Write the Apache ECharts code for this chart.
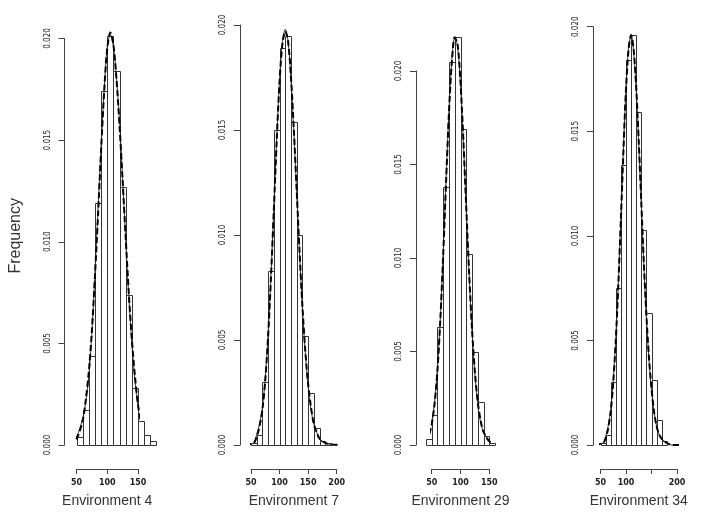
<!DOCTYPE html>
<html>
<head>
<meta charset="utf-8">
<script src="https://cdn.jsdelivr.net/npm/echarts@6/dist/echarts.min.js"></script>
<style>
  html, body {margin: 0; padding: 0; background: #fff;}
  #chart {width: 705px; height: 513px;}
</style>
</head>
<body>
<div id="chart"></div>
<script>
// ---- data ----
const titles = ['Environment 4', 'Environment 7', 'Environment 29', 'Environment 34']

// histogram bin edges (width 10) and heights (density)
const env4Edges = [50, 60, 70, 80, 90, 100, 110, 120, 130, 140, 150, 160, 170, 180]
const env4Heights = [0.0004, 0.0017, 0.0044, 0.0119, 0.0174, 0.0201, 0.0184, 0.0127, 0.0074, 0.0028, 0.0012, 0.0005, 0.0002]
const env7Edges = [50, 60, 70, 80, 90, 100, 110, 120, 130, 140, 150, 160, 170, 180, 190]
const env7Heights = [0.0001, 0.0005, 0.0030, 0.0083, 0.0150, 0.0189, 0.0195, 0.0154, 0.0100, 0.0052, 0.0025, 0.0008, 0.0002, 0.0001]
const env29Edges = [40, 50, 60, 70, 80, 90, 100, 110, 120, 130, 140, 150, 160]
const env29Heights = [0.0003, 0.0016, 0.0063, 0.0138, 0.0205, 0.0218, 0.0169, 0.0102, 0.0050, 0.0023, 0.0005, 0.0001]
const env34Edges = [50, 60, 70, 80, 90, 100, 110, 120, 130, 140, 150, 160, 170, 180]
const env34Heights = [0.0001, 0.0005, 0.0030, 0.0075, 0.0134, 0.0184, 0.0196, 0.0159, 0.0103, 0.0063, 0.0031, 0.0012, 0.0002]

// dashed curve and thin solid curve
const env4CurveX = [38, 50, 60, 65, 70, 75, 80, 85, 90, 95, 100, 105, 110, 115, 120, 125, 130, 135, 140, 145, 150, 155, 160, 170, 180, 197]
const env4Dash = [0, 0.0003, 0.0012, 0.0022, 0.0036, 0.0056, 0.0083, 0.0113, 0.0145, 0.0174, 0.0195, 0.0203, 0.0197, 0.0180, 0.0157, 0.0130, 0.0102, 0.0075, 0.0052, 0.0034, 0.0020, 0.0011, 0.0006, 0.0002, 0.00005, 0]
const env4Solid = [0, 0.0004, 0.0013, 0.0021, 0.0034, 0.0055, 0.0085, 0.0116, 0.0147, 0.0175, 0.0196, 0.0202, 0.0196, 0.0181, 0.0159, 0.0131, 0.0101, 0.0073, 0.0050, 0.0032, 0.0019, 0.0011, 0.0006, 0.0002, 0.00005, 0]
const env7CurveX = [40, 55, 60, 65, 70, 75, 80, 85, 90, 95, 100, 105, 110, 115, 120, 125, 130, 135, 140, 145, 150, 155, 160, 165, 170, 180, 190, 208]
const env7Dash = [0, 0.0001, 0.0004, 0.0009, 0.0017, 0.0031, 0.0052, 0.0080, 0.0112, 0.0145, 0.0173, 0.0191, 0.0197, 0.0192, 0.0175, 0.0150, 0.0121, 0.0092, 0.0066, 0.0045, 0.0029, 0.0018, 0.0010, 0.0006, 0.0003, 0.0001, 0.00003, 0]
const env7Solid = [0, 0.0001, 0.0005, 0.0010, 0.0018, 0.0032, 0.0053, 0.0081, 0.0113, 0.0146, 0.0174, 0.0192, 0.0198, 0.0192, 0.0174, 0.0149, 0.0120, 0.0091, 0.0065, 0.0044, 0.0028, 0.0017, 0.0010, 0.0006, 0.0003, 0.0001, 0.00003, 0]
const env29CurveX = [24, 40, 45, 50, 55, 60, 65, 70, 75, 80, 85, 90, 95, 100, 105, 110, 115, 120, 125, 130, 135, 140, 150, 160, 175, 192]
const env29Dash = [0, 0.0002, 0.0005, 0.0011, 0.0022, 0.0040, 0.0067, 0.0102, 0.0141, 0.0178, 0.0205, 0.0218, 0.0214, 0.0194, 0.0163, 0.0127, 0.0092, 0.0062, 0.0039, 0.0023, 0.0013, 0.0007, 0.0002, 0.00005, 0, 0]
const env29Solid = [0, 0.0002, 0.0006, 0.0012, 0.0023, 0.0041, 0.0068, 0.0103, 0.0142, 0.0179, 0.0206, 0.0218, 0.0213, 0.0193, 0.0162, 0.0126, 0.0091, 0.0061, 0.0038, 0.0022, 0.0012, 0.0007, 0.0002, 0.00005, 0, 0]
const env34CurveX = [40, 55, 60, 65, 70, 75, 80, 85, 90, 95, 100, 105, 110, 115, 120, 125, 130, 135, 140, 145, 150, 155, 160, 165, 170, 180, 190, 220]
const env34Dash = [0, 0.0001, 0.0003, 0.0008, 0.0016, 0.0030, 0.0050, 0.0077, 0.0108, 0.0141, 0.0170, 0.0189, 0.0196, 0.0189, 0.0171, 0.0145, 0.0116, 0.0087, 0.0062, 0.0042, 0.0027, 0.0016, 0.0009, 0.0005, 0.0003, 0.0001, 0, 0]
const env34Solid = [0, 0.0001, 0.0004, 0.0009, 0.0017, 0.0031, 0.0051, 0.0078, 0.0109, 0.0142, 0.0171, 0.0190, 0.0196, 0.0188, 0.0170, 0.0144, 0.0115, 0.0086, 0.0061, 0.0041, 0.0026, 0.0016, 0.0009, 0.0005, 0.0003, 0.0001, 0, 0]

// x tick values and labels per panel
const env4Ticks = [50, 100, 150]
const env4TickLabels = ['50', '100', '150']
const env7Ticks = [50, 100, 150, 200]
const env7TickLabels = ['50', '100', '150', '200']
const env29Ticks = [50, 100, 150]
const env29TickLabels = ['50', '100', '150']
const env34Ticks = [50, 100, 150, 200]
const env34TickLabels = ['50', '100', '', '200']

const yTicks = [0, 0.005, 0.010, 0.015, 0.020]

// ---- layout (pixels) ----
const panels = [
  {edges: env4Edges, heights: env4Heights, cx: env4CurveX, dash: env4Dash, solid: env4Solid,
    ticks: env4Ticks, labels: env4TickLabels, left: 76.5, width: 61.5, top: 38.5, height: 414.5, yOff: 12},
  {edges: env7Edges, heights: env7Heights, cx: env7CurveX, dash: env7Dash, solid: env7Solid,
    ticks: env7Ticks, labels: env7TickLabels, left: 251, width: 85.7, top: 25, height: 428, yOff: 11},
  {edges: env29Edges, heights: env29Heights, cx: env29CurveX, dash: env29Dash, solid: env29Solid,
    ticks: env29Ticks, labels: env29TickLabels, left: 431.7, width: 57.6, top: 71, height: 382, yOff: 15.7},
  {edges: env34Edges, heights: env34Heights, cx: env34CurveX, dash: env34Dash, solid: env34Solid,
    ticks: env34Ticks, labels: env34TickLabels, left: 600.5, width: 76.5, top: 26.7, height: 426.3, yOff: 7.5}
]

const narrow = "'Liberation Sans Narrow', 'DejaVu Sans Condensed', sans-serif"
const axisColor = '#444'

const grid = []
const xAxis = []
const yAxis = []
const series = []

panels.forEach((p, i) => {
  grid.push({left: p.left, top: p.top, width: p.width, height: p.height})
  const lo = p.ticks[0], hi = p.ticks[p.ticks.length - 1]
  xAxis.push({
    type: 'value', gridIndex: i, min: lo, max: hi, interval: 50, offset: 24,
    name: titles[i], nameLocation: 'middle', nameGap: 25,
    nameTextStyle: {fontFamily: "'Liberation Sans', Arial, sans-serif", fontSize: 14, color: '#333'},
    axisLine: {show: true, onZero: false, lineStyle: {color: axisColor, width: 1}},
    axisTick: {show: true, length: 5, lineStyle: {color: axisColor}},
    axisLabel: {
      fontSize: 8, fontWeight: 'bold', color: '#222', margin: 10,
      fontFamily: 'DejaVu Sans, sans-serif',
      formatter: v => p.labels[p.ticks.indexOf(v)] ?? ''
    },
    splitLine: {show: false}
  })
  yAxis.push({
    type: 'value', gridIndex: i, min: 0, max: 0.02, interval: 0.005, offset: p.yOff,
    axisLine: {show: true, onZero: false, lineStyle: {color: axisColor, width: 1}},
    axisTick: {show: true, length: 6, lineStyle: {color: axisColor}},
    axisLabel: {
      rotate: 90, fontSize: 8, color: '#222', margin: 13, fontFamily: narrow,
      formatter: v => yTicks.includes(+v.toFixed(3)) ? v.toFixed(3) : ''
    },
    splitLine: {show: false}
  })
  const bins = p.heights.map((h, k) => [p.edges[k], p.edges[k + 1], h])
  series.push({
    type: 'custom', xAxisIndex: i, yAxisIndex: i, clip: false, z: 1,
    data: bins,
    encode: {x: [0, 1], y: 2},
    renderItem: (params, api) => {
      const a = api.coord([api.value(0), api.value(2)])
      const b = api.coord([api.value(1), 0])
      return {
        type: 'rect',
        shape: {x: Math.round(a[0]) + 0.5, y: Math.round(a[1]) + 0.5,
          width: Math.round(b[0]) - Math.round(a[0]), height: Math.round(b[1]) - Math.round(a[1])},
        style: {fill: '#fff', stroke: '#333', lineWidth: 1}
      }
    }
  })
  series.push({
    type: 'line', xAxisIndex: i, yAxisIndex: i, clip: false, z: 3,
    data: p.cx.map((x, k) => [x, p.solid[k]]),
    symbol: 'none', smooth: 0.3,
    lineStyle: {color: '#333', width: 1}
  })
  series.push({
    type: 'line', xAxisIndex: i, yAxisIndex: i, clip: false, z: 4,
    data: p.cx.map((x, k) => [x, p.dash[k]]),
    symbol: 'none', smooth: 0.3,
    lineStyle: {color: '#000', width: 2, type: [6, 3]}
  })
})

const chart = echarts.init(document.getElementById('chart'))
chart.setOption({
  backgroundColor: '#fff',
  animation: false,
  grid, xAxis, yAxis, series,
  graphic: [{
    type: 'text', left: 8, top: 198, rotation: Math.PI / 2,
    style: {text: 'Frequency', fontSize: 16, fontFamily: "'Liberation Sans', Arial, sans-serif", fill: '#333'}
  }]
})
</script>
</body>
</html>
